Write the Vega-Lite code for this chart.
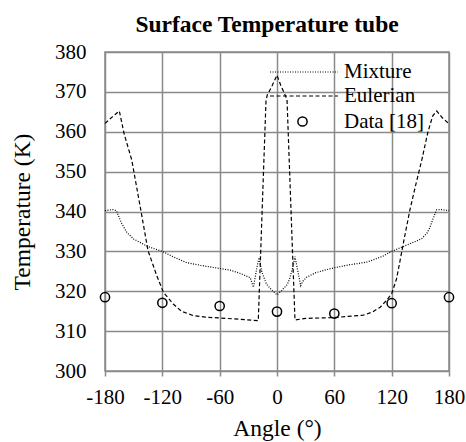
{
  "$schema": "https://vega.github.io/schema/vega-lite/v6.json",
  "width": 344,
  "height": 319,
  "autosize": {"type": "none"},
  "padding": {"left": 105, "top": 52, "right": 17, "bottom": 71},
  "background": "white",
  "title": {
    "text": "Surface Temperature tube",
    "font": "Liberation Serif",
    "fontSize": 23.5,
    "fontWeight": "bold",
    "color": "black",
    "anchor": "middle",
    "frame": "group",
    "dx": -10,
    "dy": 23,
    "offset": 24
  },
  "config": {
    "view": {"stroke": "#8a8a8a", "strokeWidth": 1.5},
    "axis": {
      "labelFont": "Liberation Serif",
      "titleFont": "Liberation Serif",
      "labelColor": "black",
      "titleColor": "black",
      "titleFontWeight": "normal",
      "gridColor": "#8a8a8a",
      "gridWidth": 1.5,
      "gridOpacity": 1,
      "domain": false
    },
    "legend": {
      "title": null,
      "orient": "none",
      "padding": 0,
      "labelFont": "Liberation Serif",
      "labelFontSize": 21,
      "labelColor": "black"
    }
  },
  "datasets": {
    "mixture": [
      {"series": "Mixture", "angle": -180, "temp": 340.2},
      {"series": "Mixture", "angle": -172, "temp": 340.5},
      {"series": "Mixture", "angle": -168, "temp": 340.2},
      {"series": "Mixture", "angle": -163, "temp": 337.2},
      {"series": "Mixture", "angle": -157, "temp": 334.7},
      {"series": "Mixture", "angle": -150, "temp": 333.1},
      {"series": "Mixture", "angle": -143, "temp": 332.2},
      {"series": "Mixture", "angle": -135, "temp": 331.2},
      {"series": "Mixture", "angle": -120, "temp": 330.0},
      {"series": "Mixture", "angle": -110, "temp": 328.8},
      {"series": "Mixture", "angle": -95, "temp": 327.2},
      {"series": "Mixture", "angle": -80, "temp": 326.5},
      {"series": "Mixture", "angle": -60, "temp": 325.7},
      {"series": "Mixture", "angle": -49, "temp": 325.3},
      {"series": "Mixture", "angle": -40, "temp": 324.6},
      {"series": "Mixture", "angle": -28, "temp": 323.4},
      {"series": "Mixture", "angle": -24.7, "temp": 321.0},
      {"series": "Mixture", "angle": -21, "temp": 326.0},
      {"series": "Mixture", "angle": -18.8, "temp": 328.4},
      {"series": "Mixture", "angle": -16, "temp": 325.0},
      {"series": "Mixture", "angle": -13, "temp": 323.0},
      {"series": "Mixture", "angle": -10.8, "temp": 321.7},
      {"series": "Mixture", "angle": -5, "temp": 320.2},
      {"series": "Mixture", "angle": 0, "temp": 319.1},
      {"series": "Mixture", "angle": 5, "temp": 320.2},
      {"series": "Mixture", "angle": 10.8, "temp": 321.7},
      {"series": "Mixture", "angle": 13, "temp": 323.0},
      {"series": "Mixture", "angle": 16, "temp": 325.5},
      {"series": "Mixture", "angle": 18.8, "temp": 328.7},
      {"series": "Mixture", "angle": 21, "temp": 326.0},
      {"series": "Mixture", "angle": 24.8, "temp": 321.4},
      {"series": "Mixture", "angle": 27, "temp": 322.5},
      {"series": "Mixture", "angle": 31, "temp": 323.5},
      {"series": "Mixture", "angle": 40, "temp": 324.6},
      {"series": "Mixture", "angle": 50, "temp": 325.3},
      {"series": "Mixture", "angle": 60, "temp": 325.9},
      {"series": "Mixture", "angle": 75, "temp": 326.6},
      {"series": "Mixture", "angle": 94, "temp": 327.3},
      {"series": "Mixture", "angle": 110, "temp": 328.7},
      {"series": "Mixture", "angle": 120, "temp": 330.0},
      {"series": "Mixture", "angle": 135, "temp": 331.5},
      {"series": "Mixture", "angle": 145, "temp": 332.5},
      {"series": "Mixture", "angle": 151.5, "temp": 333.2},
      {"series": "Mixture", "angle": 157, "temp": 334.6},
      {"series": "Mixture", "angle": 160, "temp": 336.0},
      {"series": "Mixture", "angle": 163, "temp": 338.0},
      {"series": "Mixture", "angle": 167, "temp": 340.4},
      {"series": "Mixture", "angle": 172, "temp": 340.5},
      {"series": "Mixture", "angle": 180, "temp": 340.2}
    ],
    "eulerian": [
      {"series": "Eulerian", "angle": -180, "temp": 362.1},
      {"series": "Eulerian", "angle": -172, "temp": 363.8},
      {"series": "Eulerian", "angle": -165, "temp": 365.2},
      {"series": "Eulerian", "angle": -160, "temp": 359.5},
      {"series": "Eulerian", "angle": -152, "temp": 352.9},
      {"series": "Eulerian", "angle": -143, "temp": 341.0},
      {"series": "Eulerian", "angle": -135, "temp": 330.2},
      {"series": "Eulerian", "angle": -126, "temp": 324.0},
      {"series": "Eulerian", "angle": -119, "temp": 319.8},
      {"series": "Eulerian", "angle": -108.6, "temp": 316.8},
      {"series": "Eulerian", "angle": -100, "temp": 315.0},
      {"series": "Eulerian", "angle": -87.6, "temp": 313.9},
      {"series": "Eulerian", "angle": -75, "temp": 313.5},
      {"series": "Eulerian", "angle": -60, "temp": 313.3},
      {"series": "Eulerian", "angle": -40, "temp": 313.0},
      {"series": "Eulerian", "angle": -19.6, "temp": 312.6},
      {"series": "Eulerian", "angle": -11.5, "temp": 367.9},
      {"series": "Eulerian", "angle": -10.2, "temp": 369.2},
      {"series": "Eulerian", "angle": -5, "temp": 371.6},
      {"series": "Eulerian", "angle": 0, "temp": 374.2},
      {"series": "Eulerian", "angle": 4, "temp": 371.6},
      {"series": "Eulerian", "angle": 8, "temp": 369.5},
      {"series": "Eulerian", "angle": 10.5, "temp": 368.0},
      {"series": "Eulerian", "angle": 18.8, "temp": 312.8},
      {"series": "Eulerian", "angle": 30, "temp": 313.2},
      {"series": "Eulerian", "angle": 60, "temp": 313.4},
      {"series": "Eulerian", "angle": 80, "temp": 313.8},
      {"series": "Eulerian", "angle": 90.4, "temp": 314.0},
      {"series": "Eulerian", "angle": 100, "temp": 314.8},
      {"series": "Eulerian", "angle": 108, "temp": 316.0},
      {"series": "Eulerian", "angle": 115, "temp": 317.8},
      {"series": "Eulerian", "angle": 120, "temp": 319.4},
      {"series": "Eulerian", "angle": 125, "temp": 323.0},
      {"series": "Eulerian", "angle": 128.8, "temp": 327.7},
      {"series": "Eulerian", "angle": 133, "temp": 333.0},
      {"series": "Eulerian", "angle": 139, "temp": 340.3},
      {"series": "Eulerian", "angle": 145, "temp": 346.5},
      {"series": "Eulerian", "angle": 151.5, "temp": 352.9},
      {"series": "Eulerian", "angle": 158, "temp": 360.0},
      {"series": "Eulerian", "angle": 163, "temp": 364.0},
      {"series": "Eulerian", "angle": 167.2, "temp": 365.2},
      {"series": "Eulerian", "angle": 173, "temp": 363.5},
      {"series": "Eulerian", "angle": 180, "temp": 362.0}
    ],
    "points": [
      {"series": "Data [18]", "angle": -180, "temp": 318.5},
      {"series": "Data [18]", "angle": -120, "temp": 317.1},
      {"series": "Data [18]", "angle": -60, "temp": 316.3},
      {"series": "Data [18]", "angle": 0, "temp": 314.9},
      {"series": "Data [18]", "angle": 60, "temp": 314.4},
      {"series": "Data [18]", "angle": 120, "temp": 317.0},
      {"series": "Data [18]", "angle": 180, "temp": 318.5}
    ]
  },
  "encoding": {
    "x": {
      "field": "angle",
      "type": "quantitative",
      "scale": {"domain": [-180, 180], "nice": false, "zero": false},
      "axis": {
        "title": "Angle (°)",
        "values": [-180, -120, -60, 0, 60, 120, 180],
        "labelExpr": "'' + datum.value",
        "labelFontSize": 21,
        "titleFontSize": 23.5,
        "ticks": true,
        "tickSize": 5,
        "tickColor": "#8a8a8a",
        "tickWidth": 1.5,
        "labelPadding": 10.5,
        "titlePadding": 9,
        "labelFlush": false
      }
    },
    "y": {
      "field": "temp",
      "type": "quantitative",
      "scale": {"domain": [300, 380], "nice": false, "zero": false},
      "axis": {
        "title": "Temperature (K)",
        "values": [300, 310, 320, 330, 340, 350, 360, 370, 380],
        "labelFontSize": 21,
        "titleFontSize": 23.5,
        "ticks": false,
        "labelPadding": 19,
        "titlePadding": 20,
        "labelFlush": false
      }
    }
  },
  "layer": [
    {
      "data": {"name": "mixture"},
      "mark": {"type": "line", "color": "black", "strokeWidth": 1.2, "clip": false},
      "encoding": {
        "strokeDash": {
          "field": "series",
          "type": "nominal",
          "scale": {"domain": ["Mixture"], "range": [[1, 1.5]]},
          "legend": {
            "legendX": 164,
            "legendY": -15,
            "symbolType": "stroke",
            "symbolSize": 4624,
            "symbolStrokeColor": "black",
            "symbolStrokeWidth": 1.2,
            "labelOffset": 5
          }
        }
      }
    },
    {
      "data": {"name": "eulerian"},
      "mark": {"type": "line", "color": "black", "strokeWidth": 1.2, "clip": false},
      "encoding": {
        "strokeDash": {
          "field": "series",
          "type": "nominal",
          "scale": {"domain": ["Eulerian"], "range": [[4, 2.5]]},
          "legend": {
            "legendX": 164,
            "legendY": 9,
            "symbolType": "stroke",
            "symbolSize": 4624,
            "symbolStrokeColor": "black",
            "symbolStrokeWidth": 1.2,
            "labelOffset": 5
          }
        }
      }
    },
    {
      "data": {"name": "points"},
      "mark": {"type": "point", "filled": false, "color": "black", "size": 85, "strokeWidth": 1.5, "opacity": 1},
      "encoding": {
        "shape": {
          "field": "series",
          "type": "nominal",
          "scale": {"domain": ["Data [18]"], "range": ["circle"]},
          "legend": {
            "legendX": 187,
            "legendY": 59,
            "symbolSize": 85,
            "symbolStrokeColor": "black",
            "symbolStrokeWidth": 1.5,
            "symbolFillColor": "transparent",
            "labelOffset": 31
          }
        }
      }
    }
  ],
  "resolve": {
    "scale": {"strokeDash": "independent"},
    "legend": {"strokeDash": "independent"}
  }
}
